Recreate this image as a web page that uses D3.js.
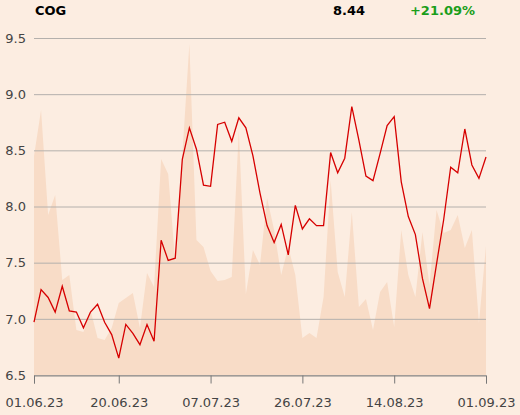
<!DOCTYPE html>
<html>
<head>
<meta charset="utf-8">
<script src="https://d3js.org/d3.v7.min.js"></script>
<style>
  body { margin: 0; background: #fcede1; }
  svg { display: block; font-family: "DejaVu Sans", sans-serif; }
  .grid line { stroke: #b4b0ac; stroke-width: 1; }
  .axis text { fill: #444; font-size: 13px; }
</style>
</head>
<body>
<svg id="chart" width="520" height="415"></svg>
<script>
// closing prices, one per trading day 01.06.23 - 01.09.23
var prices = [6.97, 7.26, 7.19, 7.06, 7.29, 7.07, 7.06, 6.92, 7.06, 7.13, 6.97, 6.86, 6.65, 6.95, 6.87, 6.77,
  6.95, 6.80, 7.70, 7.52, 7.54, 8.42, 8.70, 8.51, 8.19, 8.18, 8.73, 8.75, 8.58, 8.79, 8.70, 8.45, 8.12,
  7.83, 7.68, 7.84, 7.57, 8.01, 7.80, 7.89, 7.83, 7.83, 8.48, 8.30, 8.43, 8.89, 8.59, 8.27, 8.23, 8.47,
  8.72, 8.80, 8.22, 7.91, 7.75, 7.36, 7.09, 7.49, 7.88, 8.35, 8.30, 8.69, 8.37, 8.25, 8.44];

// traded volume (relative units) for the same days
var volumes = [2190, 2650, 1600, 1800, 950, 1000, 450, 430, 650, 370, 350, 470, 720, 770, 820, 470,
  1020, 880, 2160, 2010, 1130, 2200, 3310, 1350, 1280, 1040, 940, 950, 980, 2450, 810, 1250, 1100,
  1770, 1450, 1000, 1280, 1000, 370, 420, 370, 780, 1950, 1030, 780, 1630, 680, 760, 450, 830,
  930, 480, 1450, 1000, 780, 1430, 900, 1650, 1420, 1450, 1600, 1270, 1450, 520, 1290];

var tickIndex = [0, 12, 25, 38, 51, 64];
var tickLabels = ["01.06.23", "20.06.23", "07.07.23", "26.07.23", "14.08.23", "01.09.23"];
var yTicks = [6.5, 7.0, 7.5, 8.0, 8.5, 9.0, 9.5];

var symbol = "COG";
var lastPrice = "8.44";
var change = "+21.09%";

let svg = d3.select("svg#chart");

var x = d3.scaleLinear()
  .domain([0, prices.length - 1])
  .range([34, 486]);

var y = d3.scaleLinear()
  .domain([6.5, 9.5])
  .range([375, 38]);

var yVol = d3.scaleLinear()
  .domain([0, 3370])
  .range([375, 38]);

// volume in the background
svg.append("path")
  .datum(volumes)
  .attr("fill", "#f8dcc7")
  .attr("d", d3.area()
    .x((d, i) => x(i))
    .y0(yVol(0))
    .y1(d => yVol(d)));

// horizontal grid
svg.append("g")
  .attr("class", "grid")
  .selectAll("line")
  .data(yTicks)
  .enter().append("line")
  .attr("x1", x.range()[0])
  .attr("x2", x.range()[1])
  .attr("y1", d => y(d) + 0.5)
  .attr("y2", d => y(d) + 0.5);

// y labels
svg.append("g")
  .attr("class", "axis")
  .selectAll("text")
  .data(yTicks)
  .enter().append("text")
  .attr("x", 26)
  .attr("y", d => y(d))
  .attr("dy", "0.36em")
  .attr("text-anchor", "end")
  .text(d => d.toFixed(1));

// x axis
var gx = svg.append("g")
  .attr("class", "axis")
  .attr("transform", `translate(0,${y(6.5) + 0.5})`)
  .call(d3.axisBottom(x)
    .tickValues(tickIndex)
    .tickSize(8)
    .tickPadding(14)
    .tickFormat((d, i) => tickLabels[i]));

gx.select(".domain").attr("stroke", "#8a8784");
gx.selectAll(".tick line").attr("stroke", "#777");
gx.selectAll(".tick text").attr("font-family", "DejaVu Sans").attr("font-size", 13);

// price line
svg.append("path")
  .datum(prices)
  .attr("fill", "none")
  .attr("stroke", "#d60000")
  .attr("stroke-width", 1.3)
  .attr("stroke-linejoin", "miter")
  .attr("d", d3.line()
    .x((d, i) => x(i))
    .y(d => y(d)));

// header
svg.append("text")
  .attr("x", 35)
  .attr("y", 15)
  .attr("font-size", 13)
  .attr("font-weight", "bold")
  .attr("fill", "#000")
  .text(symbol);

svg.append("text")
  .attr("x", 365)
  .attr("y", 15)
  .attr("text-anchor", "end")
  .attr("font-size", 13)
  .attr("font-weight", "bold")
  .attr("fill", "#000")
  .text(lastPrice);

svg.append("text")
  .attr("x", 475)
  .attr("y", 15)
  .attr("text-anchor", "end")
  .attr("font-size", 13)
  .attr("font-weight", "bold")
  .attr("fill", "#1a9e1a")
  .text(change);
</script>
</body>
</html>
